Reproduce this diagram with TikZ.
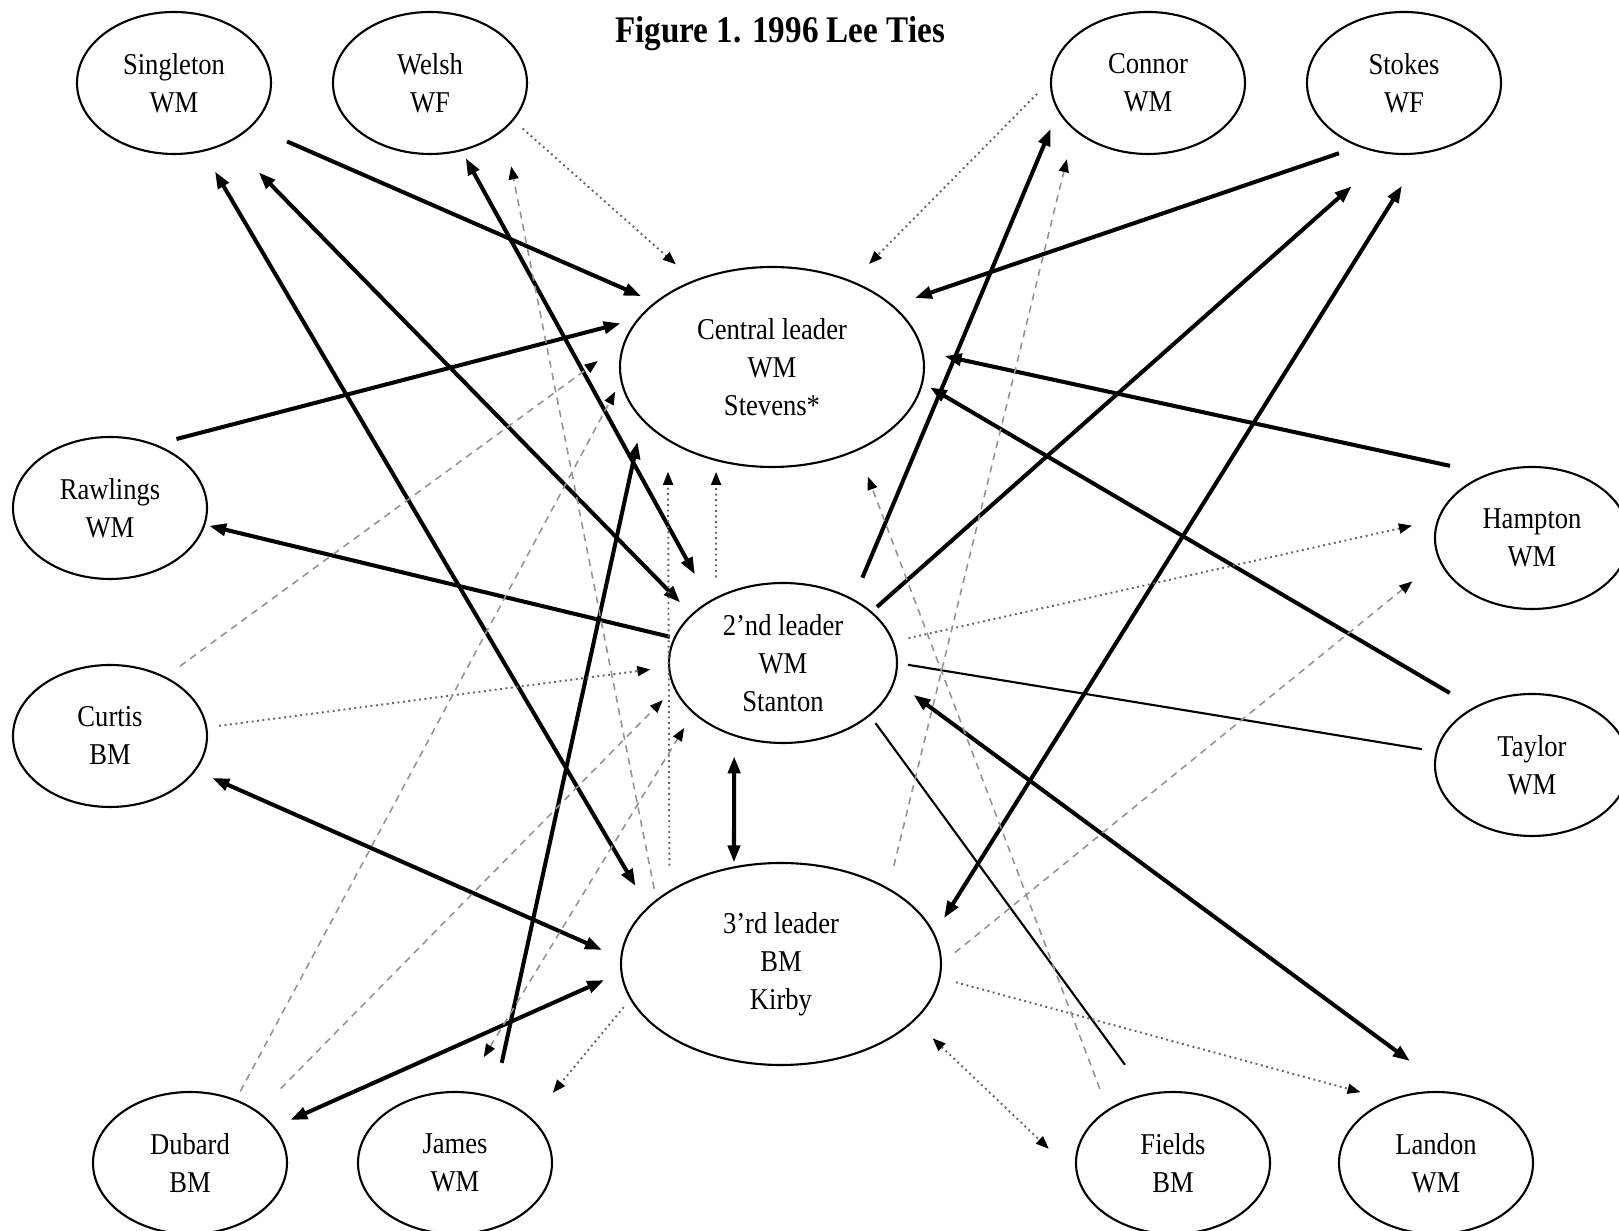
\documentclass[tikz,border=0pt]{standalone}
\usepackage{fontspec}
\setmainfont[FakeStretch=0.88]{Liberation Serif}
\usepackage{tikz}
\usetikzlibrary{shapes,arrows.meta}

\begin{document}
\begin{tikzpicture}

\useasboundingbox (0,0) rectangle (16.19,-12.31);
\clip (0,0) rectangle (16.19,-12.31);

  \tikzset{person/.style={draw, ellipse, line width=0.6pt, inner sep=0pt, outer sep=0pt, minimum width=1.94cm, minimum height=1.42cm, align=center, font=\fontsize{8.6}{10.8}\selectfont}}
  \tikzset{strongtie/.style={line width=1.15pt, >={Triangle[length=1.7mm,width=1.2mm]}}}
  \tikzset{thintie/.style={line width=0.6pt}}
  \tikzset{weaktie/.style={densely dotted, line width=0.55pt, black!60, >={Triangle[length=1.3mm,width=1.0mm,color=black]}}}
  \tikzset{fainttie/.style={dash pattern=on 2pt off 1.6pt, line width=0.45pt, black!42, >={Triangle[length=1.3mm,width=1.0mm,color=black]}}}

\node[font=\fontsize{10.7}{13}\selectfont\bfseries] (ttl) at (7.80,-0.335) {Figure 1. 1996 Lee Ties};

\node[person] (sg) at (1.74,-0.83) {Singleton\\WM};
\node[person] (wl) at (4.30,-0.83) {Welsh\\WF};
\node[person] (cn) at (11.48,-0.83) {Connor\\WM};
\node[person] (sk) at (14.04,-0.83) {Stokes\\WF};
\node[person] (rw) at (1.10,-5.08) {Rawlings\\WM};
\node[person] (ct) at (1.10,-7.36) {Curtis\\BM};
\node[person] (hp) at (15.32,-5.38) {Hampton\\WM};
\node[person] (ty) at (15.32,-7.65) {Taylor\\WM};
\node[person] (db) at (1.90,-11.63) {Dubard\\BM};
\node[person] (jm) at (4.55,-11.63) {James\\WM};
\node[person] (fd) at (11.73,-11.63) {Fields\\BM};
\node[person] (ld) at (14.36,-11.63) {Landon\\WM};

\node[person, minimum width=3.04cm, minimum height=2.0cm] (cl) at (7.72,-3.67) {Central leader\\WM\\Stevens*};
\node[person, minimum width=2.28cm, minimum height=1.6cm] (sl) at (7.83,-6.63) {2’nd leader\\WM\\Stanton};
\node[person, minimum width=3.2cm, minimum height=2.02cm] (tl) at (7.81,-9.64) {3’rd leader\\BM\\Kirby};

% strong ties
\draw[strongtie,->,shorten <=3.9mm,shorten >=1.6mm] (sg.-29.6) -- (cl.151.7);
\draw[strongtie,<->,shorten <=2.4mm,shorten >=2.5mm] (sg.-67.8) -- (tl.157.3);
\draw[strongtie,<->,shorten <=4.3mm,shorten >=1.7mm] (sg.-47.1) -- (sl.152.2);
\draw[strongtie,<->,shorten <=0.9mm,shorten >=3.1mm] (wl.-65) -- (sl.140.1);
\draw[strongtie,->,shorten <=2.4mm,shorten >=2.0mm] (sl.42.1) -- (cn.-163.8);
\draw[strongtie,->,shorten <=2.2mm,shorten >=2.4mm] (sk.-125.1) -- (cl.27.1);
\draw[strongtie,->,shorten <=0.8mm,shorten >=5.0mm] (sl.30.3) -- (sk.-102.1);
\draw[strongtie,<->,shorten <=1.9mm,shorten >=3.9mm] (tl.11) -- (sk.-75.8);
\draw[strongtie,->,shorten <=4.0mm,shorten >=2.3mm] (hp.124.3) -- (cl.6.9);
\draw[strongtie,->,shorten <=2.9mm,shorten >=0.9mm] (ty.135) -- (cl.-6.5);
\draw[strongtie,->,shorten <=2.3mm,shorten >=1.9mm] (rw.55.3) -- (cl.160.3);
\draw[strongtie,->,shorten <=0.5mm,shorten >=0.5mm] (sl.167.6) -- (rw.-10.3);
\draw[strongtie,->,shorten <=3.6mm,shorten >=2.3mm] (jm.59.4) -- (cl.-158.9);
\draw[strongtie,<->,shorten <=1.9mm,shorten >=2.1mm] (ct.-22.4) -- (tl.178);
\draw[strongtie,<->,shorten <=1.8mm,shorten >=1.9mm] (db.23.5) -- (tl.-177.1);
\draw[strongtie,<->,shorten <=2.1mm,shorten >=0.5mm] (sl.-124.8) -- (tl.116.5);
\draw[strongtie,<->,shorten <=2.4mm,shorten >=5.4mm] (sl.-9.2) -- (ld.76.8);

\draw[thintie,shorten <=1.1mm,shorten >=1.5mm] (sl.-0.9) -- (ty.172.2);
\draw[thintie,shorten <=1.0mm,shorten >=3.7mm] (sl.-31.2) -- (fd.111);

% weak ties
\draw[weaktie,->,shorten <=1.3mm,shorten >=2.5mm] (wl.-24.6) -- (cl.132.4);
\draw[weaktie,->,shorten <=2.0mm,shorten >=2.5mm] (cn.178.9) -- (cl.47.6);
\draw[weaktie,->,shorten <=1.3mm,shorten >=1.9mm] (ct.5.8) -- (sl.-178.3);
\draw[weaktie,->,shorten <=1.6mm,shorten >=2.7mm] (sl.11.3) -- (hp.169.3);
\draw[weaktie,->,shorten <=1.7mm,shorten >=3.1mm] (tl.-5.2) -- (ld.126.1);
\draw[weaktie,<->,shorten <=2.6mm,shorten >=4.0mm] (tl.-23.7) -- (fd.-172.5);
\draw[weaktie,->,shorten <=1.1mm,shorten >=3.4mm] (tl.-167.8) -- (jm.30.6);
\draw[weaktie,->,shorten <=2.6mm,shorten >=3.2mm] (tl.147.7) -- (cl.-145);
\draw[weaktie,->,shorten <=2.1mm,shorten >=1.2mm] (sl.136.6) -- (cl.-121.6);

\draw[fainttie,->,shorten <=1.2mm,shorten >=3.8mm] (tl.153.6) -- (wl.-32);
\draw[fainttie,->,shorten <=2.4mm,shorten >=3.1mm] (tl.35.4) -- (cn.-148.8);
\draw[fainttie,->,shorten <=2.3mm,shorten >=2.9mm] (fd.141.8) -- (cl.-44.8);
\draw[fainttie,->,shorten <=1.8mm,shorten >=3.5mm] (tl.0.25) -- (hp.-167.3);
\draw[fainttie,->,shorten <=1.9mm,shorten >=3.4mm] (ct.47.9) -- (cl.170.4);
\draw[fainttie,->,shorten <=1.0mm,shorten >=1.3mm] (db.54.8) -- (cl.-175);
\draw[fainttie,->,shorten <=3.3mm,shorten >=1.7mm] (db.37.1) -- (sl.-167.1);
\draw[fainttie,<->,shorten <=4.1mm,shorten >=1.8mm] (jm.84.6) -- (sl.-151.8);

\end{tikzpicture}
\end{document}
